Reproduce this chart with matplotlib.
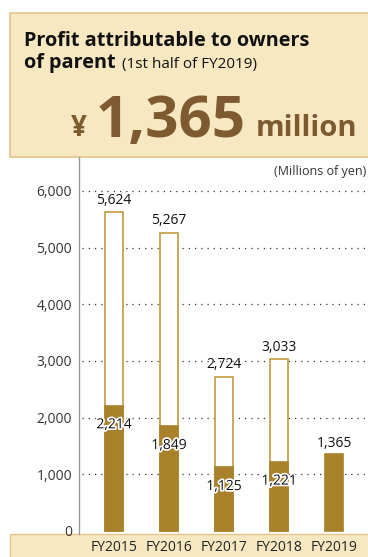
import matplotlib
matplotlib.use("Agg")
import matplotlib.pyplot as plt
from matplotlib.patches import Rectangle
import matplotlib.patheffects as pe

# data (millions of yen)
years = ["FY2015", "FY2016", "FY2017", "FY2018", "FY2019"]
full_year = [5624, 5267, 2724, 3033, None]
first_half = [2214, 1849, 1125, 1221, 1365]
yticks = [0, 1000, 2000, 3000, 4000, 5000, 6000]

BAR = "#A9812A"
EDGE = "#C29B3F"
BG = "#F8E8C2"
BORDER = "#E2C48C"
BROWN = "#7D5A30"
BOLD = ["Open Sans", "DejaVu Sans"]
plt.rcParams["font.family"] = ["Open Sans", "DejaVu Sans"]

W, H = 368, 557
fig = plt.figure(figsize=(W / 100, H / 100), dpi=100)

def fx(px):
    return px / W

def fy(py):
    return 1 - py / H

# header box
fig.patches.append(Rectangle((fx(10), fy(157)), fx(370 - 10), fy(13) - fy(157),
                             transform=fig.transFigure, facecolor=BG,
                             edgecolor=BORDER, linewidth=1.2, zorder=-1))
fig.text(fx(24), fy(46), "Profit attributable to owners", fontsize=14.3,
         fontweight="bold", color="#111", family=BOLD)
fig.text(fx(24), fy(68), "of parent", fontsize=14.3, fontweight="bold",
         color="#111", family=BOLD)
fig.text(fx(122), fy(68), "(1st half of FY2019)", fontsize=11, color="#111")
fig.text(fx(71), fy(136), "¥", fontsize=20, fontweight="bold", color=BROWN,
         family=BOLD)
fig.text(fx(96), fy(137), "1,365", fontsize=42, fontweight="bold", color=BROWN,
         family=BOLD)
fig.text(fx(256), fy(136), "million", fontsize=21, fontweight="bold", color=BROWN,
         family=BOLD)

# bottom band
fig.patches.append(Rectangle((fx(10), -0.01), fx(370 - 10), fy(534) + 0.01,
                             transform=fig.transFigure, facecolor=BG,
                             edgecolor=BORDER, linewidth=1.0, zorder=-1))

ax = fig.add_axes([fx(79), fy(534), fx(365 - 79), fy(157) - fy(534)])
ax.set_facecolor("none")
ax.set_xlim(-0.636, 4.56)
ax.set_ylim(-53, 6600)

x = range(len(years))
for i in x:
    if full_year[i] is not None:
        ax.bar(i, full_year[i], width=0.33, color="white", edgecolor=EDGE,
               linewidth=1.2, zorder=2)
        ax.annotate(f"{full_year[i]:,}", (i, full_year[i]), xytext=(0, 3),
                    textcoords="offset points", ha="center", va="bottom",
                    fontsize=10, color="#111", zorder=5)
    ax.bar(i, first_half[i], width=0.33, color=BAR, edgecolor=BAR,
           linewidth=1.2, zorder=3)
    if full_year[i] is not None:
        yl = max(first_half[i] - 340, 780)
        t = ax.text(i, yl, f"{first_half[i]:,}", ha="center", va="center",
                    fontsize=10, color="#111", zorder=6)
        t.set_path_effects([pe.withStroke(linewidth=2.5, foreground="white")])
    else:
        ax.annotate(f"{first_half[i]:,}", (i, first_half[i]), xytext=(0, 2),
                    textcoords="offset points", ha="center", va="bottom",
                    fontsize=10, color="#111", zorder=5)

for v in yticks[1:]:
    ax.axhline(v, color="#333", linestyle=(0, (1, 4)), linewidth=0.9,
               zorder=1, xmin=0.01)

ax.set_yticks(yticks)
ax.set_yticklabels([f"{v:,}" for v in yticks], fontsize=10, color="#333")
ax.set_xticks(list(x))
ax.set_xticklabels(years, fontsize=10, color="#222")
ax.tick_params(length=0)
ax.tick_params(axis="y", pad=5)
ax.tick_params(axis="x", pad=4)
for s in ["top", "right", "bottom"]:
    ax.spines[s].set_visible(False)
ax.spines["left"].set_color("#999")
ax.spines["left"].set_linewidth(1.0)

fig.text(fx(366), fy(172), "(Millions of yen)", fontsize=9, color="#333",
         ha="right", va="center")

fig.savefig("out.png", dpi=100)
